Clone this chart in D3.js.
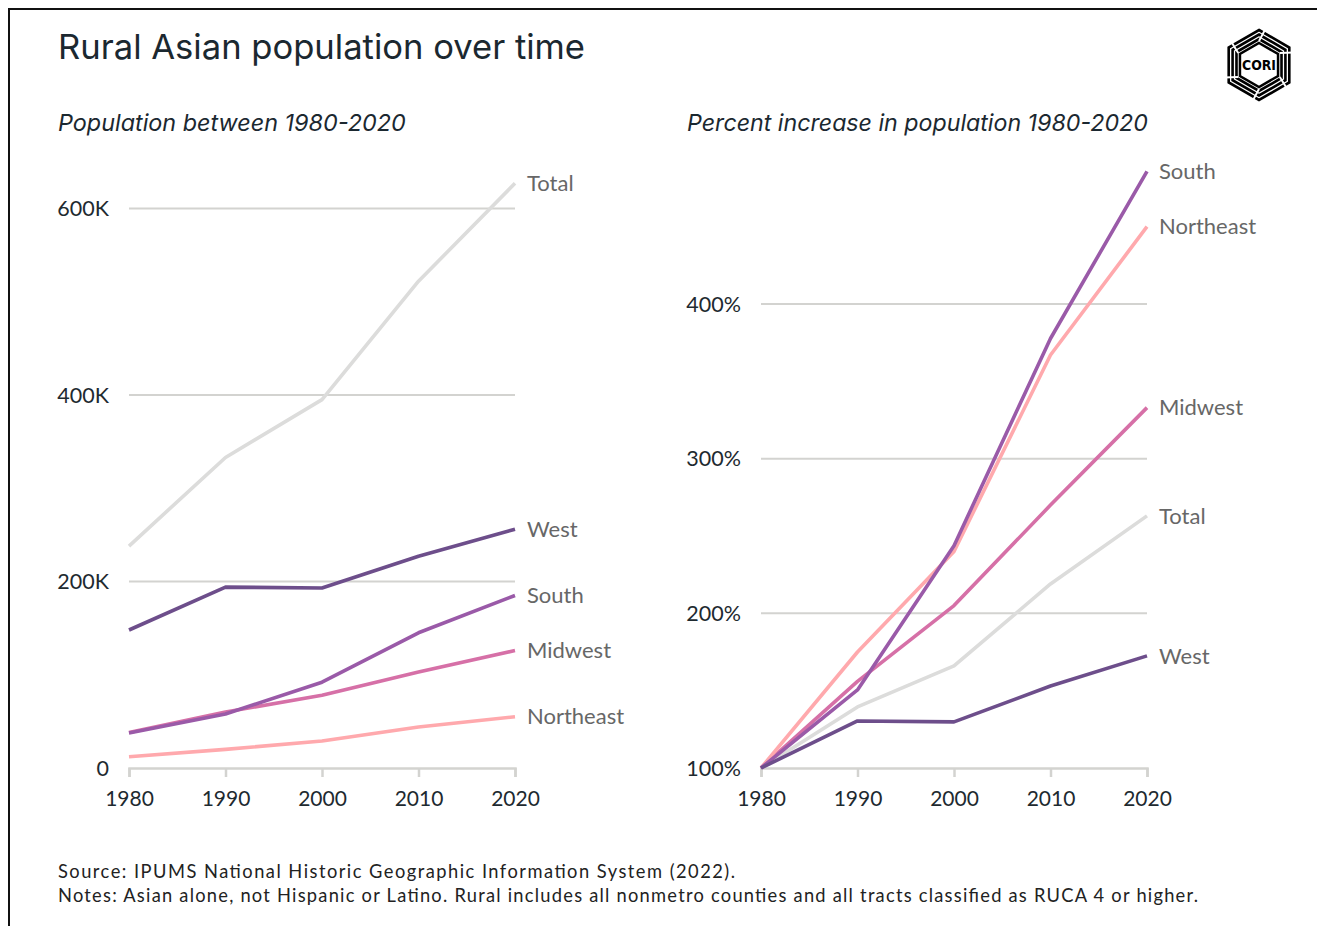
<!DOCTYPE html>
<html>
<head>
<meta charset="utf-8">
<script src="https://cdn.jsdelivr.net/npm/d3@7"></script>
<style>
  html, body { margin: 0; padding: 0; background: #fff; }
  svg { display: block; }
</style>
</head>
<body>
<svg id="chart" width="1317" height="926"></svg>
<script>
// ---------- DATA ----------
const years = [1980, 1990, 2000, 2010, 2020];
const regions = ["Total", "Northeast", "Midwest", "South", "West"];

// Population (persons)
const popTotal     = [238000, 333000, 395000, 522000, 627000];
const popWest      = [148000, 194000, 193000, 227000, 256000];
const popSouth     = [37500, 58000, 92000, 145000, 185000];
const popMidwest   = [38000, 60000, 78000, 103000, 126000];
const popNortheast = [12000, 20000, 29000, 44000, 55000];

// Percent of 1980 population
const pctTotal     = [100, 139.5, 166, 219, 263];
const pctWest      = [100, 130.4, 129.8, 153, 172.5];
const pctSouth     = [100, 150.5, 243.7, 377.7, 485.8];
const pctMidwest   = [100, 156, 205, 270, 333];
const pctNortheast = [100, 175, 240, 367, 450];

const popTicks = [0, 200000, 400000, 600000];
const popTickLabels = ["0", "200K", "400K", "600K"];
const pctTicks = [100, 200, 300, 400];
const pctTickLabels = ["100%", "200%", "300%", "400%"];

const colors = {
  Total: "#dcdcdb",
  Northeast: "#ffa9ad",
  Midwest: "#d670a7",
  South: "#9a5aa8",
  West: "#6d4e8b"
};

const leftSeries = [
  {name: "Total", values: popTotal},
  {name: "Northeast", values: popNortheast},
  {name: "Midwest", values: popMidwest},
  {name: "South", values: popSouth},
  {name: "West", values: popWest}
];
const rightSeries = [
  {name: "Total", values: pctTotal},
  {name: "Midwest", values: pctMidwest},
  {name: "Northeast", values: pctNortheast},
  {name: "South", values: pctSouth},
  {name: "West", values: pctWest}
];

// ---------- DRAW ----------
const svg = d3.select("#chart");
const FONT = "Lato, 'Noto Sans', sans-serif";

function fitText(sel, target) {
  const node = sel.node();
  const w = node.getComputedTextLength();
  const fs = parseFloat(sel.attr("font-size"));
  sel.attr("font-size", (fs * target / w).toFixed(2));
}

// frame lines
svg.append("line").attr("x1", 8).attr("x2", 1317).attr("y1", 9).attr("y2", 9)
  .attr("stroke", "#111").attr("stroke-width", 2);
svg.append("line").attr("x1", 9).attr("x2", 9).attr("y1", 8).attr("y2", 926)
  .attr("stroke", "#111").attr("stroke-width", 2);

// title
const title = svg.append("text").attr("x", 58).attr("y", 59)
  .attr("font-family", "Inter, Lato, sans-serif").attr("font-size", 32)
  .attr("fill", "#1b2830").text("Rural Asian population over time");
fitText(title, 527);

// subtitles
const sub1 = svg.append("text").attr("x", 58).attr("y", 131)
  .attr("font-family", "Inter, Lato, sans-serif").attr("font-style", "italic").attr("font-size", 22)
  .attr("fill", "#1b2830").text("Population between 1980-2020");
fitText(sub1, 348);
const sub2 = svg.append("text").attr("x", 687).attr("y", 131)
  .attr("font-family", "Inter, Lato, sans-serif").attr("font-style", "italic").attr("font-size", 22)
  .attr("fill", "#1b2830").text("Percent increase in population 1980-2020");
fitText(sub2, 461);

// footer
svg.append("text").attr("x", 58).attr("y", 878)
  .attr("font-family", FONT).attr("font-size", 18.3).attr("fill", "#222")
  .attr("textLength", 677).attr("lengthAdjust", "spacing")
  .text("Source: IPUMS National Historic Geographic Information System (2022).");
svg.append("text").attr("x", 58).attr("y", 902)
  .attr("font-family", FONT).attr("font-size", 18.3).attr("fill", "#222")
  .attr("textLength", 1140).attr("lengthAdjust", "spacing")
  .text("Notes: Asian alone, not Hispanic or Latino. Rural includes all nonmetro counties and all tracts classified as RUCA 4 or higher.");

function drawPanel(opts) {
  const {x0, x1, yDomain, yRange, ticks, tickLabels, series} = opts;
  const x = d3.scaleLinear().domain([1980, 2020]).range([x0, x1]);
  const y = d3.scaleLinear().domain(yDomain).range(yRange);
  const g = svg.append("g");

  // grid
  g.selectAll(".grid").data(ticks.slice(1)).join("line")
    .attr("x1", x0).attr("x2", x1)
    .attr("y1", d => y(d)).attr("y2", d => y(d))
    .attr("stroke", "#d3d3d0").attr("stroke-width", 2);

  // x axis
  const xAxis = d3.axisBottom(x).tickValues(years).tickFormat(d3.format("d"))
    .tickSize(9).tickPadding(14);
  const ax = g.append("g").attr("transform", `translate(0,${y(ticks[0])})`).call(xAxis);
  ax.select(".domain").attr("stroke", "#d3d3d0").attr("stroke-width", 2.5);
  ax.selectAll(".tick line").attr("stroke", "#d3d3d0").attr("stroke-width", 2.5);
  ax.selectAll(".tick text").attr("font-family", FONT).attr("font-size", 21)
    .attr("fill", "#1e2a30");

  // y labels
  g.selectAll(".ylab").data(ticks).join("text")
    .attr("x", x0 - 20).attr("y", d => y(d)).attr("dy", "0.35em")
    .attr("text-anchor", "end").attr("font-family", FONT).attr("font-size", 21.5)
    .attr("fill", "#1e2a30")
    .text((d, i) => tickLabels[i]);

  // lines
  const line = d3.line().x((d, i) => x(years[i])).y(d => y(d));
  g.selectAll(".series").data(series).join("path")
    .attr("d", d => line(d.values))
    .attr("fill", "none")
    .attr("stroke", d => colors[d.name])
    .attr("stroke-width", 3.6)
    .attr("stroke-linejoin", "round");

  // end labels
  g.selectAll(".lab").data(series).join("text")
    .attr("x", x1 + 12)
    .attr("y", d => y(d.values[d.values.length - 1]))
    .attr("dy", "0.35em")
    .attr("font-family", FONT).attr("font-size", 22)
    .attr("fill", "#676767")
    .text(d => d.name);
}

drawPanel({
  x0: 129, x1: 515,
  yDomain: [0, 600000], yRange: [768, 208.5],
  ticks: popTicks, tickLabels: popTickLabels,
  series: leftSeries
});

drawPanel({
  x0: 761, x1: 1147,
  yDomain: [100, 400], yRange: [768, 304],
  ticks: pctTicks, tickLabels: pctTickLabels,
  series: rightSeries
});

// ---------- logo ----------
const logo = svg.append("g").attr("transform", "translate(1259,65)");
function hexPts(r) {
  return d3.range(6).map(i => {
    const a = Math.PI / 180 * (60 * i - 90);
    return [r * Math.cos(a), r * Math.sin(a)];
  });
}
[35, 30.5, 26].forEach(r => {
  logo.append("polygon").attr("points", hexPts(r).map(p => p.join(",")).join(" "))
    .attr("fill", "none").attr("stroke", "#000").attr("stroke-width", 2.6);
});
d3.range(6).forEach(i => {
  const a = Math.PI / 180 * (60 * i - 90);
  const p1 = [24 * Math.cos(a), 24 * Math.sin(a)];
  const p2 = [37 * Math.cos(a + 0.18), 37 * Math.sin(a + 0.18)];
  logo.append("line").attr("x1", p1[0]).attr("y1", p1[1]).attr("x2", p2[0]).attr("y2", p2[1])
    .attr("stroke", "#fff").attr("stroke-width", 2);
});
logo.append("polygon").attr("points", hexPts(22).map(p => p.join(",")).join(" "))
  .attr("fill", "#fff").attr("stroke", "#000").attr("stroke-width", 2.5);
const lt = logo.append("text").attr("x", 0).attr("y", 0).attr("dy", "0.36em")
  .attr("text-anchor", "middle")
  .attr("font-family", "'DejaVu Sans Condensed', 'Liberation Sans Narrow', sans-serif")
  .attr("font-weight", "bold").attr("font-size", 17).attr("fill", "#000")
  .text("CORI");
fitText(lt, 34);
</script>
</body>
</html>
